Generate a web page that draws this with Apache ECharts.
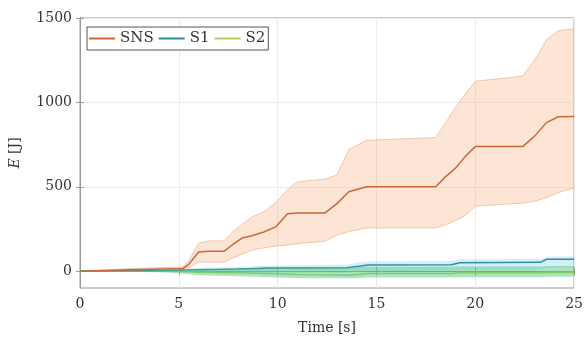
<!DOCTYPE html>
<html>
<head>
<meta charset="utf-8">
<script src="https://cdn.jsdelivr.net/npm/echarts@6/dist/echarts.min.js"></script>
<style>
  html, body { margin: 0; padding: 0; background: #fff; }
  #chart { width: 586px; height: 340px; }
</style>
</head>
<body>
<div id="chart"></div>
<script>
// Energy over time for three controllers: mean curves with min/max envelopes.
const snsTime  = [0, 2.5, 5.2, 5.5, 6, 6.5, 7.3, 7.7, 8.2, 8.7, 9.3, 9.9, 10.5, 11, 12.4, 13, 13.6, 14.5, 18, 18.5, 19, 19.5, 20, 22.4, 23, 23.6, 24.2, 25];
const snsMean  = [0, 8, 15, 40, 113, 118, 118, 155, 196, 210, 232, 262, 340, 345, 345, 400, 470, 500, 500, 560, 610, 680, 738, 738, 800, 880, 915, 917];
const snsUpper = [0, 14, 25, 60, 165, 179, 179, 230, 275, 321, 351, 405, 482, 530, 545, 570, 720, 775, 792, 880, 970, 1050, 1125, 1155, 1250, 1370, 1425, 1435];
const snsLower = [0, 3, 5, 20, 54, 54, 54, 77, 100, 125, 138, 148, 155, 163, 178, 214, 235, 256, 256, 275, 300, 330, 385, 403, 415, 435, 465, 494];

const sTime   = [0, 2, 4, 5, 5.5, 6, 7, 8, 9, 9.5, 10, 11, 12, 13.5, 14.2, 14.6, 18.8, 19.2, 23.3, 23.6, 25];
const s1Mean  = [0, 2, 4, 5, 6, 8, 10, 12, 16, 18, 18, 18, 18, 20, 30, 36, 38, 50, 52, 70, 71];
const s1Upper = [2, 5, 8, 10, 14, 18, 22, 25, 30, 33, 34, 35, 36, 40, 52, 58, 60, 70, 72, 85, 88];
const s1Lower = [-2, -2, -2, -3, -4, -6, -6, -8, -8, -8, -8, -10, -10, -10, -6, 0, 2, 8, 10, 20, 22];
const s2Mean  = [0, 0, 0, -2, -4, -6, -8, -10, -12, -14, -16, -20, -22, -24, -18, -14, -14, -10, -10, -8, -8];
const s2Upper = [3, 4, 6, 10, 12, 14, 14, 15, 16, 18, 20, 20, 20, 20, 24, 26, 26, 28, 28, 30, 30];
const s2Lower = [-3, -4, -6, -12, -18, -24, -28, -30, -34, -36, -38, -40, -42, -42, -40, -38, -38, -36, -36, -34, -34];

const xTicks = [0, 5, 10, 15, 20, 25];
const yTicks = [0, 500, 1000, 1500];

const FONT = 'DejaVu Serif';
const AXIS_GRAY = '#9a9a9a';

const pairs = (t, v) => t.map((x, i) => [x, v[i]]);

// Filled envelope between lower and upper curves, placed with the chart's own coordinate mapping
function band(t, lo, hi, fill, z) {
  return {
    type: 'custom',
    silent: true,
    z: z,
    data: [[t[0], lo[0]]],
    encode: { x: 0, y: 1 },
    renderItem: function (params, api) {
      const top = t.map((x, i) => api.coord([x, hi[i]]));
      const bottom = t.map((x, i) => api.coord([x, lo[i]])).reverse();
      return {
        type: 'polygon',
        shape: { points: top.concat(bottom) },
        style: { fill: fill, stroke: null }
      };
    }
  };
}

function line(name, t, v, color, width, z) {
  return {
    name: name,
    type: 'line',
    data: pairs(t, v),
    showSymbol: false,
    symbol: 'none',
    silent: true,
    z: z,
    lineStyle: { color: color, width: width },
    itemStyle: { color: color }
  };
}

const chart = echarts.init(document.getElementById('chart'), null, { renderer: 'canvas' });

chart.setOption({
  animation: false,
  backgroundColor: '#fff',
  textStyle: { fontFamily: FONT },
  grid: {
    left: 80, right: 8, top: 18, bottom: 52,
    show: true, borderColor: AXIS_GRAY, borderWidth: 1, backgroundColor: 'transparent'
  },
  legend: {
    data: ['SNS', 'S1', 'S2'],
    left: 87, top: 27,
    orient: 'horizontal',
    icon: 'rect',
    itemWidth: 26, itemHeight: 2,
    itemGap: 5,
    padding: [4, 3, 4, 2],
    borderColor: '#555', borderWidth: 1,
    backgroundColor: '#fff',
    textStyle: { fontFamily: FONT, fontSize: 15, color: '#333' }
  },
  xAxis: [{
    type: 'value', min: 0, max: 25, interval: 5,
    name: 'Time [s]', nameLocation: 'middle', nameGap: 33,
    nameTextStyle: { fontFamily: FONT, fontSize: 14, color: '#333' },
    axisLine: { show: true, lineStyle: { color: AXIS_GRAY } },
    axisTick: { show: true, inside: true, length: 4, lineStyle: { color: AXIS_GRAY } },
    axisLabel: { fontFamily: FONT, fontSize: 14, color: '#333', margin: 9, formatter: v => String(v) },
    splitLine: { show: true, lineStyle: { color: '#ececec', width: 1 } }
  }, {
    type: 'value', min: 0, max: 25, interval: 5, position: 'top',
    axisLine: { show: true, lineStyle: { color: AXIS_GRAY } },
    axisTick: { show: true, inside: true, length: 4, lineStyle: { color: AXIS_GRAY } },
    axisLabel: { show: false },
    splitLine: { show: false }
  }],
  yAxis: [{
    type: 'value', min: -100, max: 1500,
    name: '{it|E} [J]', nameLocation: 'middle', nameGap: 58, nameRotate: 90,
    nameTextStyle: {
      fontFamily: FONT, fontSize: 14, color: '#333',
      rich: { it: { fontFamily: FONT, fontSize: 14, fontStyle: 'italic', color: '#333' } }
    },
    axisLine: { show: true, lineStyle: { color: AXIS_GRAY } },
    axisTick: { show: true, inside: true, length: 4, customValues: yTicks, lineStyle: { color: AXIS_GRAY } },
    axisLabel: { fontFamily: FONT, fontSize: 14, color: '#333', margin: 8, customValues: yTicks, formatter: v => String(v) },
    splitLine: { show: true, lineStyle: { color: '#ececec', width: 1 } }
  }, {
    type: 'value', min: -100, max: 1500, position: 'right',
    axisLine: { show: true, lineStyle: { color: AXIS_GRAY } },
    axisTick: { show: true, inside: true, length: 4, customValues: yTicks, lineStyle: { color: AXIS_GRAY } },
    axisLabel: { show: false },
    splitLine: { show: false }
  }],
  series: [
    band(snsTime, snsLower, snsUpper, 'rgba(248,168,115,0.30)', 2),
    line('SNS upper', snsTime, snsUpper, '#f3c6a6', 1, 3),
    line('SNS lower', snsTime, snsLower, '#f3c6a6', 1, 3),
    line('S2', sTime, s2Mean, '#b4cf62', 1.5, 3),
    band(sTime, s1Lower, s1Upper, 'rgba(110,205,235,0.30)', 4),
    line('S1', sTime, s1Mean, '#2f8f9f', 1.5, 5),
    band(sTime, s2Lower, s2Upper, 'rgba(70,195,115,0.45)', 6),
    line('SNS', snsTime, snsMean, '#c9683a', 1.5, 7)
  ]
});
</script>
</body>
</html>
